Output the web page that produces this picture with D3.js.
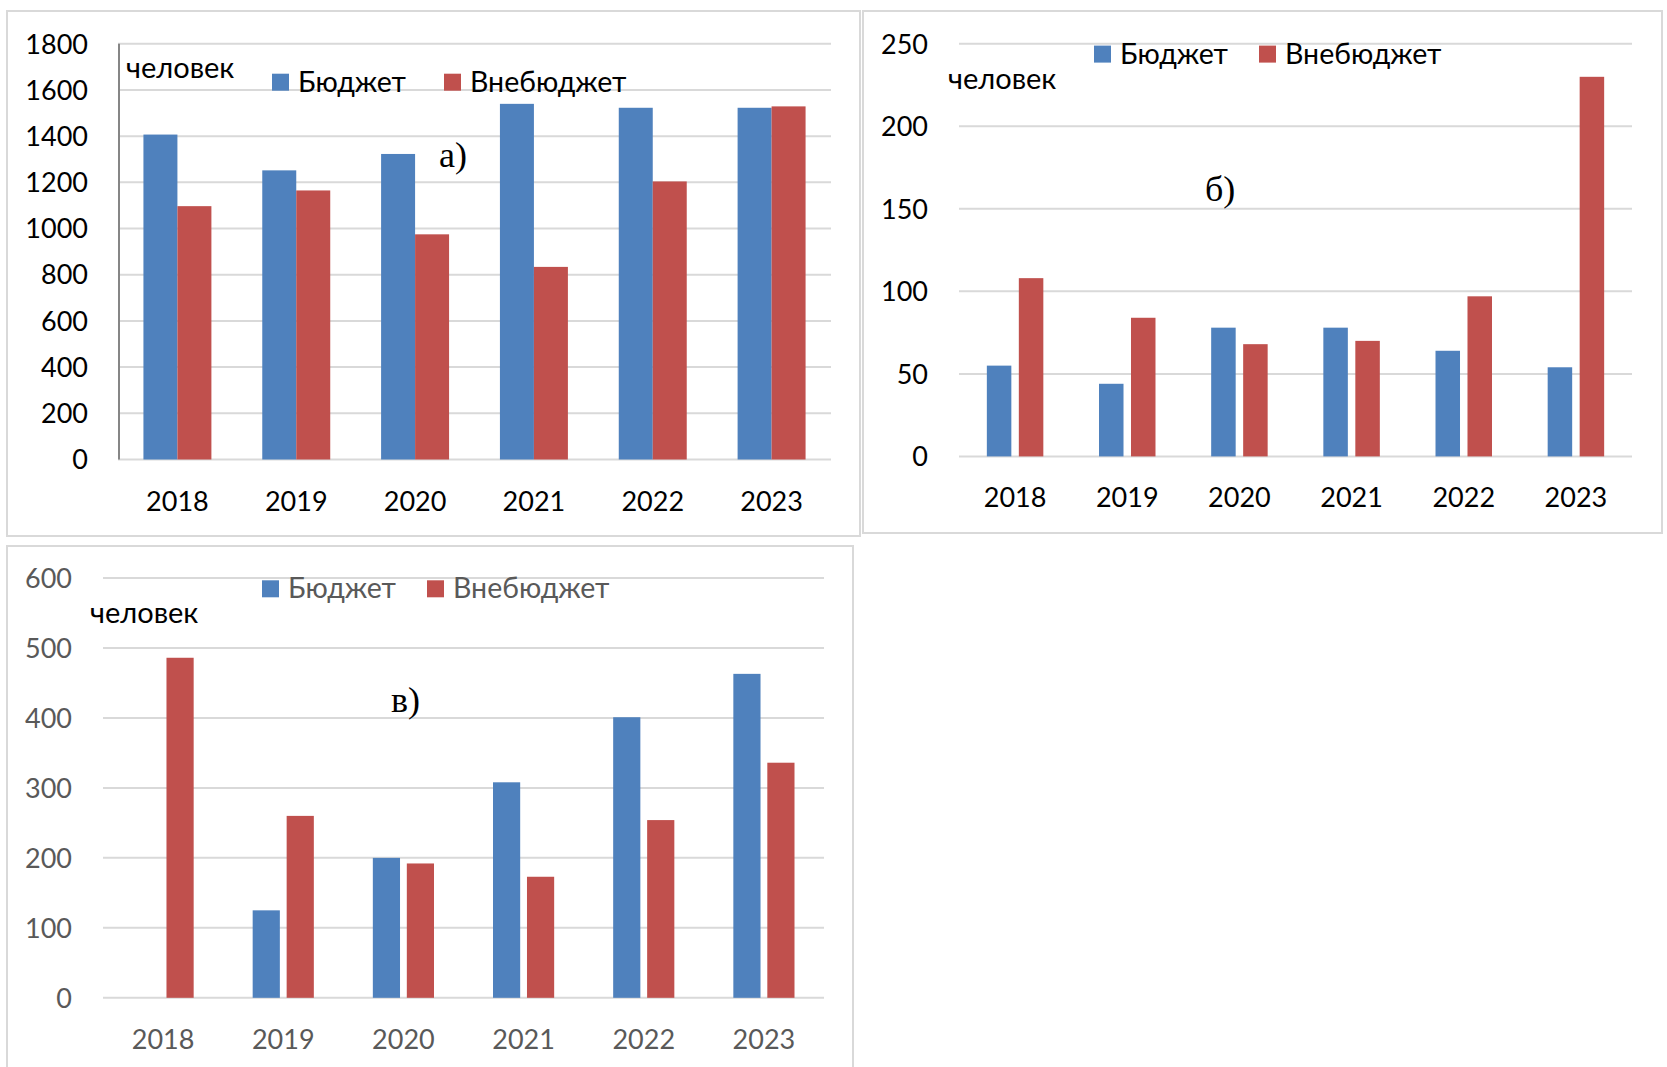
<!DOCTYPE html>
<html>
<head>
<meta charset="utf-8">
<script src="https://cdn.jsdelivr.net/npm/d3@7"></script>
<style>
  body { margin: 0; background: #fff; }
  svg text { font-family: Lato, "Noto Sans", sans-serif; }
</style>
</head>
<body>
<svg id="chart" width="1667" height="1067"></svg>
<script>
// данные
var years = ["2018", "2019", "2020", "2021", "2022", "2023"];
var seriesNames = ["Бюджет", "Внебюджет"];

var budgetA = [1407, 1252, 1323, 1540, 1523, 1523];
var extraA  = [1097, 1165, 975, 834, 1204, 1529];
var ticksA  = [0, 200, 400, 600, 800, 1000, 1200, 1400, 1600, 1800];

var budgetB = [55, 44, 78, 78, 64, 54];
var extraB  = [108, 84, 68, 70, 97, 230];
var ticksB  = [0, 50, 100, 150, 200, 250];

var budgetC = [0, 125, 200, 308, 401, 463];
var extraC  = [486, 260, 192, 173, 254, 336];
var ticksC  = [0, 100, 200, 300, 400, 500, 600];

var colors = ["#4f81bd", "#c0504d"];
var svg = d3.select("#chart");

function drawPanel(p) {
    var g = svg.append("g");

    // рамка
    g.append("rect")
        .attr("x", p.box[0]).attr("y", p.box[1])
        .attr("width", p.box[2] - p.box[0]).attr("height", p.box[3] - p.box[1])
        .attr("fill", "#fff").attr("stroke", "#d9d9d9").attr("stroke-width", 2);

    var x = d3.scaleBand()
        .domain(years)
        .range([p.left, p.right])
        .paddingInner(p.pad).paddingOuter(p.pad / 2);

    var x1 = d3.scaleBand()
        .domain([0, 1])
        .range([0, x.bandwidth()])
        .paddingInner(p.innerPad);

    var y = d3.scaleLinear()
        .domain([0, d3.max(p.ticks)])
        .range([p.bottom, p.top]);

    // сетка
    g.selectAll(".grid")
        .data(p.ticks)
        .enter().append("line")
        .attr("x1", p.left).attr("x2", p.right)
        .attr("y1", function(d) { return y(d); })
        .attr("y2", function(d) { return y(d); })
        .attr("stroke", "#d9d9d9").attr("stroke-width", 2);

    if (p.yLine) {
        g.append("line")
            .attr("x1", p.left + 1).attr("x2", p.left + 1)
            .attr("y1", y(d3.max(p.ticks))).attr("y2", p.bottom)
            .attr("stroke", "#868686").attr("stroke-width", 2);
    }

    // подписи оси Y
    g.selectAll(".ytick")
        .data(p.ticks)
        .enter().append("text")
        .attr("x", p.tickX)
        .attr("y", function(d) { return y(d); })
        .attr("dy", "0.36em")
        .attr("text-anchor", "end")
        .attr("font-size", 27)
        .attr("fill", p.textColor)
        .text(function(d) { return d; });

    // столбцы
    var rows = years.map(function(yr, i) { return {year: yr, vals: [p.budget[i], p.extra[i]]}; });
    var grp = g.selectAll(".grp")
        .data(rows)
        .enter().append("g")
        .attr("transform", function(d) { return "translate(" + x(d.year) + ",0)"; });

    grp.selectAll("rect")
        .data(function(d) { return d.vals; })
        .enter().append("rect")
        .attr("x", function(d, i) { return x1(i); })
        .attr("y", function(d) { return y(d); })
        .attr("width", x1.bandwidth())
        .attr("height", function(d) { return p.bottom - y(d); })
        .attr("fill", function(d, i) { return colors[i]; });

    // подписи оси X
    g.selectAll(".xtick")
        .data(years)
        .enter().append("text")
        .attr("x", function(d) { return x(d) + x.bandwidth() / 2; })
        .attr("y", p.xLabelY)
        .attr("text-anchor", "middle")
        .attr("font-size", 27)
        .attr("fill", p.textColor)
        .text(function(d) { return d; });

    // единицы
    g.append("text")
        .attr("x", p.unit[0]).attr("y", p.unit[1])
        .attr("font-size", 29)
        .attr("fill", "#000")
        .text("человек");

    // легенда
    seriesNames.forEach(function(name, i) {
        g.append("rect")
            .attr("x", p.legend[i]).attr("y", p.legendY - 17)
            .attr("width", 17).attr("height", 17)
            .attr("fill", colors[i]);
        g.append("text")
            .attr("x", p.legend[i] + 26).attr("y", p.legendY + 1)
            .attr("font-size", 28.5)
            .attr("fill", p.textColor)
            .text(name);
    });

    // буква панели
    g.append("text")
        .attr("x", p.letter[0]).attr("y", p.letter[1])
        .style("font-family", "'Liberation Serif', 'DejaVu Serif', serif")
        .attr("font-size", 36)
        .attr("fill", "#000")
        .text(p.letterText);
}

drawPanel({
    box: [7, 11, 860, 536],
    left: 118, right: 831, top: 43.8, bottom: 459.5,
    pad: 0.428, innerPad: 0,
    ticks: ticksA, budget: budgetA, extra: extraA,
    yLine: true, tickX: 88, xLabelY: 511, textColor: "#000",
    unit: [126, 78], legend: [272, 444], legendY: 90.7,
    letter: [439, 167], letterText: "а)"
});

drawPanel({
    box: [863, 11, 1662, 533],
    left: 959, right: 1632, top: 43.8, bottom: 456.4,
    pad: 0.4964, innerPad: 0.234,
    ticks: ticksB, budget: budgetB, extra: extraB,
    yLine: false, tickX: 928, xLabelY: 507, textColor: "#000",
    unit: [948, 89], legend: [1094, 1259], legendY: 62.6,
    letter: [1205, 201], letterText: "б)"
});

drawPanel({
    box: [7, 546, 853, 1090],
    left: 103, right: 824, top: 578, bottom: 997.8,
    pad: 0.491, innerPad: 0.2,
    ticks: ticksC, budget: budgetC, extra: extraC,
    yLine: false, tickX: 72, xLabelY: 1049, textColor: "#595959",
    unit: [90, 623], legend: [262, 427], legendY: 597.3,
    letter: [391, 712], letterText: "в)"
});
</script>
</body>
</html>
